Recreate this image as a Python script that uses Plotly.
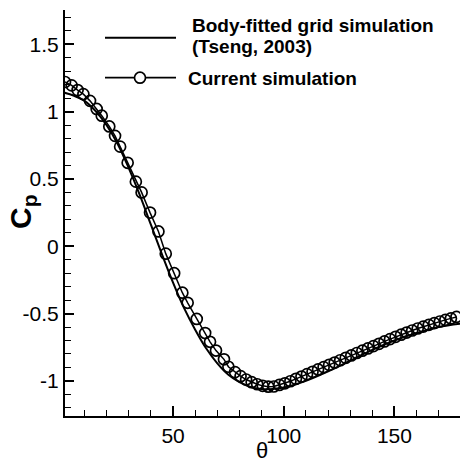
import plotly.graph_objects as go

# Current simulation (markers + line)
cur_theta = [1.2, 4.2, 6.9, 9.5, 12.5, 15.5, 17.8, 21.2, 23.8, 26.1, 29.5, 33.2, 35.8, 39.6,
             43.4, 46.7, 50.5, 54.2, 56.6, 60.7, 64.5, 66.7, 69.4, 73.0, 75.0, 78.0, 80.5,
             83.0, 85.5, 88.0, 90.5, 93.0, 95.5, 98.0, 100.5, 103.0, 105.5, 108.0, 110.5,
             113.0, 115.5, 118.0, 120.5, 123.0, 125.5, 128.0, 130.5, 133.0, 135.5, 138.0,
             140.5, 143.0, 145.5, 148.0, 150.5, 153.0, 155.5, 158.0, 160.5, 163.0, 165.5,
             168.0, 170.5, 173.0, 175.5, 178.0]
cur_cp = [1.22, 1.195, 1.16, 1.13, 1.08, 1.02, 0.97, 0.89, 0.82, 0.74, 0.62, 0.48, 0.40, 0.25,
          0.11, -0.055, -0.20, -0.345, -0.42, -0.54, -0.645, -0.71, -0.775, -0.84, -0.895,
          -0.935, -0.965, -0.99, -1.01, -1.025, -1.037, -1.043, -1.042, -1.03, -1.018,
          -1.003, -0.985, -0.968, -0.95, -0.933, -0.915, -0.898, -0.881, -0.864, -0.847,
          -0.829, -0.811, -0.793, -0.776, -0.759, -0.742, -0.725, -0.707, -0.69, -0.673,
          -0.657, -0.641, -0.626, -0.611, -0.597, -0.584, -0.571, -0.559, -0.547, -0.536,
          -0.525]

# Body-fitted grid simulation (Tseng, 2003)
ref_theta = [1, 5, 10, 15, 20, 25, 30, 35, 40, 45, 50, 55, 60, 65, 70, 75, 80, 85, 90, 95,
             100, 110, 120, 130, 140, 150, 160, 170, 180]
ref_cp = [1.14, 1.12, 1.08, 1.005, 0.90, 0.76, 0.58, 0.38, 0.16, -0.06, -0.27, -0.46, -0.62,
          -0.76, -0.87, -0.955, -1.01, -1.045, -1.06, -1.06, -1.05, -1.0, -0.93, -0.85,
          -0.77, -0.70, -0.645, -0.60, -0.575]

y_tickvals = [-1, -0.5, 0, 0.5, 1, 1.5]
y_ticktext = ["-1", "-0.5", "0", "0.5", "1", "1.5"]
x_tickvals = [50, 100, 150]
x_ticktext = ["50", "100", "150"]

legend_names = ["Body-fitted grid simulation", "(Tseng, 2003)", "Current simulation"]

W, H = 460, 464
L, R, T, B = 65, 0, 10, 48
PW, PH = W - L - R, H - T - B


def px(x):
    return (x - L) / PW


def py(y):
    return (H - B - y) / PH


FONT = "Liberation Sans, Arial, Helvetica, sans-serif"

fig = go.Figure()
fig.add_trace(go.Scatter(x=ref_theta, y=ref_cp, mode="lines",
                         line=dict(color="black", width=2), line_shape="spline",
                         showlegend=False))
fig.add_trace(go.Scatter(x=cur_theta, y=cur_cp, mode="lines+markers",
                         line=dict(color="black", width=1.5),
                         marker=dict(symbol="circle-open", size=11, color="black",
                                     line=dict(width=1.7, color="black")),
                         showlegend=False))

shapes = [
    dict(type="line", xref="paper", yref="paper", x0=px(105), x1=px(176), y0=py(37.7), y1=py(37.7),
         line=dict(color="black", width=2)),
    dict(type="line", xref="paper", yref="paper", x0=px(105), x1=px(176), y0=py(77.7), y1=py(77.7),
         line=dict(color="black", width=1.7)),
    dict(type="circle", xref="paper", yref="paper", x0=px(134.5), x1=px(145.5), y0=py(83.2), y1=py(72.2),
         line=dict(color="black", width=1.7), fillcolor="white"),
]

annotations = [
    dict(text="<b>" + legend_names[0] + "</b>", xref="paper", yref="paper", x=px(190), y=py(25.5),
         xanchor="left", yanchor="middle", showarrow=False, font=dict(family=FONT, size=19, color="black")),
    dict(text="<b>" + legend_names[1] + "</b>", xref="paper", yref="paper", x=px(190), y=py(46.5),
         xanchor="left", yanchor="middle", showarrow=False, font=dict(family=FONT, size=19, color="black")),
    dict(text="<b>" + legend_names[2] + "</b>", xref="paper", yref="paper", x=px(186), y=py(78.5),
         xanchor="left", yanchor="middle", showarrow=False, font=dict(family=FONT, size=19, color="black")),
    dict(text="<b>C<sub>p</sub></b>", xref="paper", yref="paper", x=px(23), y=py(212),
         xanchor="center", yanchor="middle", textangle=-90, showarrow=False,
         font=dict(family=FONT, size=30, color="black")),
    dict(text="θ", xref="paper", yref="paper", x=px(261.5), y=py(450),
         xanchor="center", yanchor="middle", showarrow=False, borderpad=0,
         font=dict(family=FONT, size=22, color="black")),
]

fig.update_layout(
    width=W, height=H,
    margin=dict(l=L, r=R, t=T, b=B),
    paper_bgcolor="white", plot_bgcolor="white",
    shapes=shapes, annotations=annotations,
    font=dict(family=FONT, color="black"),
    xaxis=dict(range=[1.2, 179.6], showgrid=False, zeroline=False,
               showline=True, linecolor="black", linewidth=2,
               tickmode="array", tickvals=x_tickvals, ticktext=x_ticktext,
               ticks="inside", ticklen=10, tickwidth=1.5, tickcolor="black",
               tickfont=dict(family=FONT, size=21, color="black"),
               minor=dict(dtick=10, tick0=0, ticks="inside", ticklen=6, tickwidth=1, tickcolor="black")),
    yaxis=dict(range=[-1.261, 1.755], showgrid=False, zeroline=False,
               showline=True, linecolor="black", linewidth=2,
               tickmode="array", tickvals=y_tickvals, ticktext=y_ticktext,
               ticks="inside", ticklen=9, tickwidth=1.5, tickcolor="black",
               tickfont=dict(family=FONT, size=21, color="black"),
               minor=dict(dtick=0.1, tick0=0, ticks="inside", ticklen=6, tickwidth=1, tickcolor="black")),
)

fig.write_html("out.html")
